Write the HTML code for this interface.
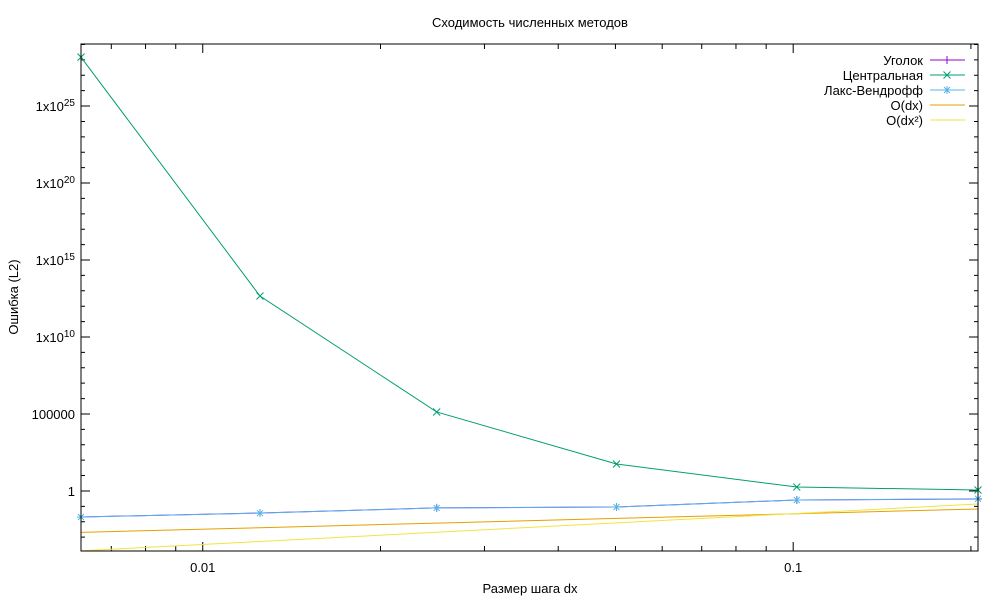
<!DOCTYPE html>
<html><head><meta charset="utf-8"><style>
body{margin:0;background:#fff}
svg{display:block;font-family:"Liberation Sans",sans-serif;font-size:13px}
</style></head><body>
<svg id="chart" width="1000" height="600">
<text x="530" y="27" text-anchor="middle">Сходимость численных методов</text>
<text x="530" y="593" text-anchor="middle">Размер шага dx</text>
<text transform="translate(18,297) rotate(-90)" text-anchor="middle">Ошибка (L2)</text>
<g id="axes"></g><g id="series"></g><g id="legend"></g>
<rect x="81" y="44" width="897" height="507" fill="none" stroke="#000" stroke-width="1"/>
</svg>
<script>
const dx=[0.00622,0.0125,0.0249,0.0502,0.1014,0.2056];
const upwind=[0.0204,0.037,0.079,0.091,0.26,0.30];
const central=[1.5e28,4.6e12,1.35e5,56,1.8,1.15];
const laxWendroff=[0.0204,0.036,0.079,0.09,0.26,0.31];
const orderDx=[0.00205,0.00411,0.00818,0.0165,0.0333,0.0676];
const orderDx2=[0.000129,0.000522,0.00207,0.00843,0.0344,0.141];
const xTickVals=[0.01,0.1];
const xTickLabels=["0.01","0.1"];
const yTickExp=[0,5,10,15,20,25];
const yTickLabels=["1","100000","1x10<tspan dy='-5' font-size='10'>10</tspan>","1x10<tspan dy='-5' font-size='10'>15</tspan>","1x10<tspan dy='-5' font-size='10'>20</tspan>","1x10<tspan dy='-5' font-size='10'>25</tspan>"];
const seriesNames=["Уголок","Центральная","Лакс-Вендрофф","O(dx)","O(dx²)"];

const L=81,R=978,T=44,B=551;
const xmin=Math.log10(0.00622),xmax=Math.log10(0.2056);
const ymin=-3.9,ymax=29.03;
const X=v=>L+(Math.log10(v)-xmin)/(xmax-xmin)*(R-L);
const Y=v=>B-(Math.log10(v)-ymin)/(ymax-ymin)*(B-T);
const NS="http://www.w3.org/2000/svg";
function mk(tag,attrs,parent){const e=document.createElementNS(NS,tag);for(const k in attrs)e.setAttribute(k,attrs[k]);parent.appendChild(e);return e;}
const axes=document.getElementById('axes');
for(let d=-3;d<=0;d++){for(let m=1;m<10;m++){const v=m*Math.pow(10,d);if(v<0.00622||v>0.2056)continue;const x=X(v);const len=m===1?9:5;
const t=mk('path',{d:`M${x},${B}v-${len}M${x},${T}v${len}`,stroke:'#000'},axes);

}}
xTickVals.forEach((v,i)=>{const t=mk('text',{x:X(v),y:B+21,'text-anchor':'middle'},axes);t.textContent=xTickLabels[i];

});
for(let e=-3;e<=29;e++){const y=Y(Math.pow(10,e));const len=e%5===0?9:4;
const t=mk('path',{d:`M${L},${y}h${len}M${R},${y}h-${len}`,stroke:'#000'},axes);

}
yTickExp.forEach((e,i)=>{const t=mk('text',{x:L-6,y:Y(Math.pow(10,e))+5,'text-anchor':'end'},axes);t.innerHTML=yTickLabels[i];

});
const ser=document.getElementById('series');
const defs=[[upwind,'#9400d3','plus'],[central,'#009e73','x'],[laxWendroff,'#56b4e9','star'],[orderDx,'#e69f00',null],[orderDx2,'#f0e442',null]];
function marker(type,x,y,c,g){let d='';if(type==='plus')d=`M${x-4},${y}h8M${x},${y-4}v8`;else if(type==='x')d=`M${x-3.5},${y-3.5}l7,7M${x-3.5},${y+3.5}l7,-7`;else if(type==='star')d=`M${x-4},${y}h8M${x},${y-4}v8M${x-3},${y-3}l6,6M${x-3},${y+3}l6,-6`;
const m=mk('path',{d,stroke:c,fill:'none'},g);

}
defs.forEach((s,i)=>{const g=mk('g',{},ser);


const pts=dx.map((v,j)=>[X(v),Math.min(B,Y(s[0][j]))]);
mk('polyline',{points:pts.map(p=>p.join(',')).join(' '),fill:'none',stroke:s[1],'stroke-width':1},g);
if(s[2])pts.forEach(p=>marker(s[2],p[0],p[1],s[1],g));});
const lg=document.getElementById('legend');
seriesNames.forEach((n,i)=>{const y=60+i*15;const g=mk('g',{},lg);


const t=mk('text',{x:923,y:y+5,'text-anchor':'end'},g);t.textContent=n;
mk('path',{d:`M930,${y}h35`,stroke:defs[i][1]},g);
if(defs[i][2])marker(defs[i][2],947,y,defs[i][1],g);});
</script>
</body></html>
